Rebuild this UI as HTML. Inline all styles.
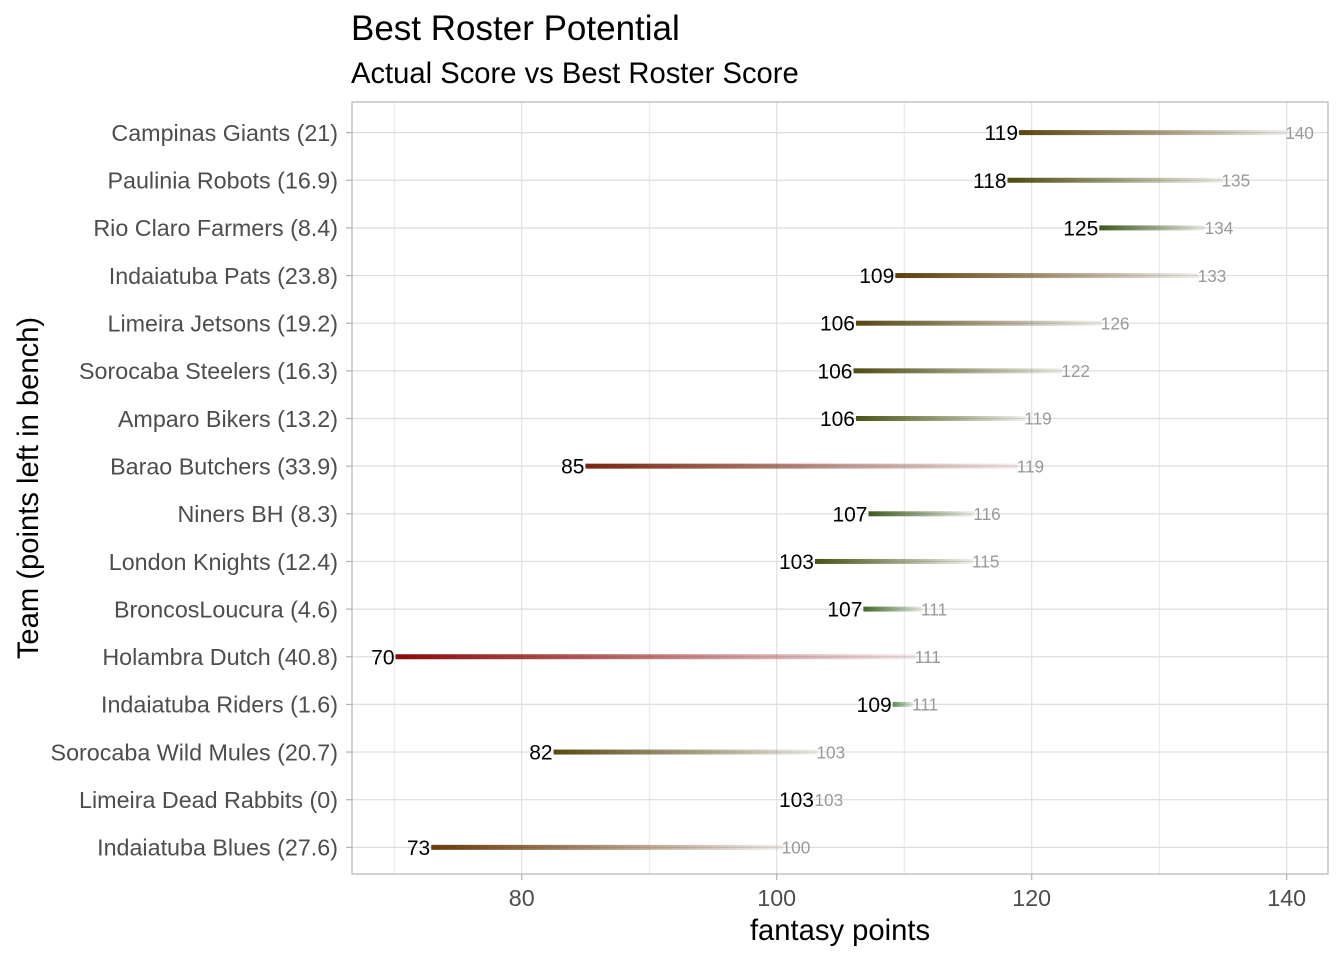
<!DOCTYPE html>
<html>
<head>
<meta charset="utf-8">
<style>
  html, body { margin: 0; padding: 0; background: #ffffff; }
  svg { display: block; }
  text { font-family: "Liberation Sans", Arial, sans-serif; }
</style>
</head>
<body>
<svg width="1344" height="960" viewBox="0 0 1344 960" xmlns="http://www.w3.org/2000/svg">
  <defs>
    <linearGradient id="g1" x1="0" y1="0" x2="1" y2="0"><stop offset="0" stop-color="#5a4510" stop-opacity="1"/><stop offset="1" stop-color="#5a4510" stop-opacity="0.08"/></linearGradient>
    <linearGradient id="g2" x1="0" y1="0" x2="1" y2="0"><stop offset="0" stop-color="#4f4a10" stop-opacity="1"/><stop offset="1" stop-color="#4f4a10" stop-opacity="0.08"/></linearGradient>
    <linearGradient id="g3" x1="0" y1="0" x2="1" y2="0"><stop offset="0" stop-color="#3a5a1c" stop-opacity="1"/><stop offset="1" stop-color="#3a5a1c" stop-opacity="0.08"/></linearGradient>
    <linearGradient id="g4" x1="0" y1="0" x2="1" y2="0"><stop offset="0" stop-color="#5e3e0a" stop-opacity="1"/><stop offset="1" stop-color="#5e3e0a" stop-opacity="0.08"/></linearGradient>
    <linearGradient id="g5" x1="0" y1="0" x2="1" y2="0"><stop offset="0" stop-color="#574612" stop-opacity="1"/><stop offset="1" stop-color="#574612" stop-opacity="0.08"/></linearGradient>
    <linearGradient id="g6" x1="0" y1="0" x2="1" y2="0"><stop offset="0" stop-color="#4d4c10" stop-opacity="1"/><stop offset="1" stop-color="#4d4c10" stop-opacity="0.08"/></linearGradient>
    <linearGradient id="g7" x1="0" y1="0" x2="1" y2="0"><stop offset="0" stop-color="#4a5414" stop-opacity="1"/><stop offset="1" stop-color="#4a5414" stop-opacity="0.08"/></linearGradient>
    <linearGradient id="g8" x1="0" y1="0" x2="1" y2="0"><stop offset="0" stop-color="#7a2410" stop-opacity="1"/><stop offset="1" stop-color="#7a2410" stop-opacity="0.08"/></linearGradient>
    <linearGradient id="g9" x1="0" y1="0" x2="1" y2="0"><stop offset="0" stop-color="#3d5c20" stop-opacity="1"/><stop offset="1" stop-color="#3d5c20" stop-opacity="0.08"/></linearGradient>
    <linearGradient id="g10" x1="0" y1="0" x2="1" y2="0"><stop offset="0" stop-color="#4a5214" stop-opacity="1"/><stop offset="1" stop-color="#4a5214" stop-opacity="0.08"/></linearGradient>
    <linearGradient id="g11" x1="0" y1="0" x2="1" y2="0"><stop offset="0" stop-color="#3f6a2c" stop-opacity="1"/><stop offset="1" stop-color="#3f6a2c" stop-opacity="0.1"/></linearGradient>
    <linearGradient id="g12" x1="0" y1="0" x2="1" y2="0"><stop offset="0" stop-color="#8b0a0a" stop-opacity="1"/><stop offset="1" stop-color="#8b0a0a" stop-opacity="0.08"/></linearGradient>
    <linearGradient id="g13" x1="0" y1="0" x2="1" y2="0"><stop offset="0" stop-color="#3f7a35" stop-opacity="0.85"/><stop offset="1" stop-color="#3f7a35" stop-opacity="0.1"/></linearGradient>
    <linearGradient id="g14" x1="0" y1="0" x2="1" y2="0"><stop offset="0" stop-color="#5a4a12" stop-opacity="1"/><stop offset="1" stop-color="#5a4a12" stop-opacity="0.08"/></linearGradient>
    <linearGradient id="g16" x1="0" y1="0" x2="1" y2="0"><stop offset="0" stop-color="#6a3a0c" stop-opacity="1"/><stop offset="1" stop-color="#6a3a0c" stop-opacity="0.08"/></linearGradient>
  </defs>

  <rect x="0" y="0" width="1344" height="960" fill="#ffffff"/>

  <!-- Title -->
  <text x="351" y="40" font-size="35" fill="#000000">Best Roster Potential</text>
  <text x="351" y="83" font-size="29.2" fill="#000000">Actual Score vs Best Roster Score</text>

  <!-- vertical grid (minor + major) -->
  <g stroke="#e0e0e0">
    <line x1="394.2" y1="102" x2="394.2" y2="874" stroke-width="0.8"/>
    <line x1="649.2" y1="102" x2="649.2" y2="874" stroke-width="0.8"/>
    <line x1="904.2" y1="102" x2="904.2" y2="874" stroke-width="0.8"/>
    <line x1="1159.2" y1="102" x2="1159.2" y2="874" stroke-width="0.8"/>
    <line x1="521.7" y1="102" x2="521.7" y2="874" stroke-width="1.2"/>
    <line x1="776.7" y1="102" x2="776.7" y2="874" stroke-width="1.2"/>
    <line x1="1031.7" y1="102" x2="1031.7" y2="874" stroke-width="1.2"/>
    <line x1="1286.7" y1="102" x2="1286.7" y2="874" stroke-width="1.2"/>
  </g>
  <!-- horizontal grid -->
  <g stroke="#dedede" stroke-width="1.2">
    <line x1="352" y1="132.6" x2="1328" y2="132.6"/>
    <line x1="352" y1="180.25" x2="1328" y2="180.25"/>
    <line x1="352" y1="227.9" x2="1328" y2="227.9"/>
    <line x1="352" y1="275.55" x2="1328" y2="275.55"/>
    <line x1="352" y1="323.2" x2="1328" y2="323.2"/>
    <line x1="352" y1="370.85" x2="1328" y2="370.85"/>
    <line x1="352" y1="418.5" x2="1328" y2="418.5"/>
    <line x1="352" y1="466.15" x2="1328" y2="466.15"/>
    <line x1="352" y1="513.8" x2="1328" y2="513.8"/>
    <line x1="352" y1="561.45" x2="1328" y2="561.45"/>
    <line x1="352" y1="609.1" x2="1328" y2="609.1"/>
    <line x1="352" y1="656.75" x2="1328" y2="656.75"/>
    <line x1="352" y1="704.4" x2="1328" y2="704.4"/>
    <line x1="352" y1="752.05" x2="1328" y2="752.05"/>
    <line x1="352" y1="799.7" x2="1328" y2="799.7"/>
    <line x1="352" y1="847.35" x2="1328" y2="847.35"/>
  </g>

  <!-- bars -->
  <rect x="1019.0" y="130.1" width="267.7" height="5" fill="url(#g1)"/>
  <rect x="1007.5" y="177.75" width="215.45" height="5" fill="url(#g2)"/>
  <rect x="1099.3" y="225.4" width="105.8" height="5" fill="url(#g3)"/>
  <rect x="895.3" y="273.05" width="303.4" height="5" fill="url(#g4)"/>
  <rect x="856.0" y="320.7" width="245.8" height="5" fill="url(#g5)"/>
  <rect x="853.5" y="368.35" width="208.8" height="5" fill="url(#g6)"/>
  <rect x="856.0" y="416.0" width="169.3" height="5" fill="url(#g7)"/>
  <rect x="585.45" y="463.65" width="432.25" height="5" fill="url(#g8)"/>
  <rect x="868.5" y="511.3" width="105.8" height="5" fill="url(#g9)"/>
  <rect x="815.0" y="558.95" width="158.05" height="5" fill="url(#g10)"/>
  <rect x="863.4" y="606.6" width="58.65" height="5" fill="url(#g11)"/>
  <rect x="395.5" y="654.25" width="520.2" height="5" fill="url(#g12)"/>
  <rect x="892.7" y="701.9" width="20.4" height="5" fill="url(#g13)"/>
  <rect x="553.6" y="749.55" width="263.9" height="5" fill="url(#g14)"/>
  <rect x="431.2" y="844.85" width="351.9" height="5" fill="url(#g16)"/>

  <!-- actual labels -->
  <g font-size="21" fill="#000000" text-anchor="end">
    <text x="1018" y="140.1">119</text>
    <text x="1006.5" y="187.75">118</text>
    <text x="1098.3" y="235.4">125</text>
    <text x="894.3" y="283.05">109</text>
    <text x="855" y="330.7">106</text>
    <text x="852.5" y="378.35">106</text>
    <text x="855" y="426.0">106</text>
    <text x="584.45" y="473.65">85</text>
    <text x="867.5" y="521.3">107</text>
    <text x="814" y="568.95">103</text>
    <text x="862.4" y="616.6">107</text>
    <text x="394.5" y="664.25">70</text>
    <text x="891.7" y="711.9">109</text>
    <text x="552.6" y="759.55">82</text>
    <text x="814" y="807.2">103</text>
    <text x="430.2" y="854.85">73</text>
  </g>
  <!-- best labels -->
  <g font-size="17.2" fill="#999999" text-anchor="start">
    <text x="1285.2" y="138.8">140</text>
    <text x="1221.5" y="186.45">135</text>
    <text x="1204.6" y="234.1">134</text>
    <text x="1197.7" y="281.75">133</text>
    <text x="1100.8" y="329.4">126</text>
    <text x="1061.3" y="377.05">122</text>
    <text x="1024.3" y="424.7">119</text>
    <text x="1016.7" y="472.35">119</text>
    <text x="973.3" y="520.0">116</text>
    <text x="972.0" y="567.65">115</text>
    <text x="921.0" y="615.3">111</text>
    <text x="914.7" y="662.95">111</text>
    <text x="912.1" y="710.6">111</text>
    <text x="816.5" y="758.25">103</text>
    <text x="814.5" y="805.9">103</text>
    <text x="781.6" y="853.55">100</text>
  </g>

  <!-- panel border -->
  <rect x="352" y="102" width="976" height="772" fill="none" stroke="#b3b3b3" stroke-width="1.2"/>

  <!-- y ticks -->
  <g stroke="#b3b3b3" stroke-width="1.2">
    <line x1="346" y1="132.6" x2="352" y2="132.6"/>
    <line x1="346" y1="180.25" x2="352" y2="180.25"/>
    <line x1="346" y1="227.9" x2="352" y2="227.9"/>
    <line x1="346" y1="275.55" x2="352" y2="275.55"/>
    <line x1="346" y1="323.2" x2="352" y2="323.2"/>
    <line x1="346" y1="370.85" x2="352" y2="370.85"/>
    <line x1="346" y1="418.5" x2="352" y2="418.5"/>
    <line x1="346" y1="466.15" x2="352" y2="466.15"/>
    <line x1="346" y1="513.8" x2="352" y2="513.8"/>
    <line x1="346" y1="561.45" x2="352" y2="561.45"/>
    <line x1="346" y1="609.1" x2="352" y2="609.1"/>
    <line x1="346" y1="656.75" x2="352" y2="656.75"/>
    <line x1="346" y1="704.4" x2="352" y2="704.4"/>
    <line x1="346" y1="752.05" x2="352" y2="752.05"/>
    <line x1="346" y1="799.7" x2="352" y2="799.7"/>
    <line x1="346" y1="847.35" x2="352" y2="847.35"/>
    <line x1="521.7" y1="874" x2="521.7" y2="880"/>
    <line x1="776.7" y1="874" x2="776.7" y2="880"/>
    <line x1="1031.7" y1="874" x2="1031.7" y2="880"/>
    <line x1="1286.7" y1="874" x2="1286.7" y2="880"/>
  </g>

  <!-- y labels -->
  <g font-size="23.3" fill="#4d4d4d" text-anchor="end">
    <text x="338" y="140.9">Campinas Giants (21)</text>
    <text x="338" y="188.55">Paulinia Robots (16.9)</text>
    <text x="338" y="236.2">Rio Claro Farmers (8.4)</text>
    <text x="338" y="283.85">Indaiatuba Pats (23.8)</text>
    <text x="338" y="331.5">Limeira Jetsons (19.2)</text>
    <text x="338" y="379.15">Sorocaba Steelers (16.3)</text>
    <text x="338" y="426.8">Amparo Bikers (13.2)</text>
    <text x="338" y="474.45">Barao Butchers (33.9)</text>
    <text x="338" y="522.1">Niners BH (8.3)</text>
    <text x="338" y="569.75">London Knights (12.4)</text>
    <text x="338" y="617.4">BroncosLoucura (4.6)</text>
    <text x="338" y="665.05">Holambra Dutch (40.8)</text>
    <text x="338" y="712.7">Indaiatuba Riders (1.6)</text>
    <text x="338" y="760.35">Sorocaba Wild Mules (20.7)</text>
    <text x="338" y="808.0">Limeira Dead Rabbits (0)</text>
    <text x="338" y="855.65">Indaiatuba Blues (27.6)</text>
  </g>

  <!-- x labels -->
  <g font-size="23.3" fill="#4d4d4d" text-anchor="middle">
    <text x="521.7" y="906">80</text>
    <text x="776.7" y="906">100</text>
    <text x="1031.7" y="906">120</text>
    <text x="1286.7" y="906">140</text>
  </g>

  <!-- axis titles -->
  <text x="840" y="940" font-size="29.2" fill="#000000" text-anchor="middle">fantasy points</text>
  <text transform="translate(38,488) rotate(-90)" font-size="29.2" fill="#000000" text-anchor="middle">Team (points left in bench)</text>
</svg>
</body>
</html>
